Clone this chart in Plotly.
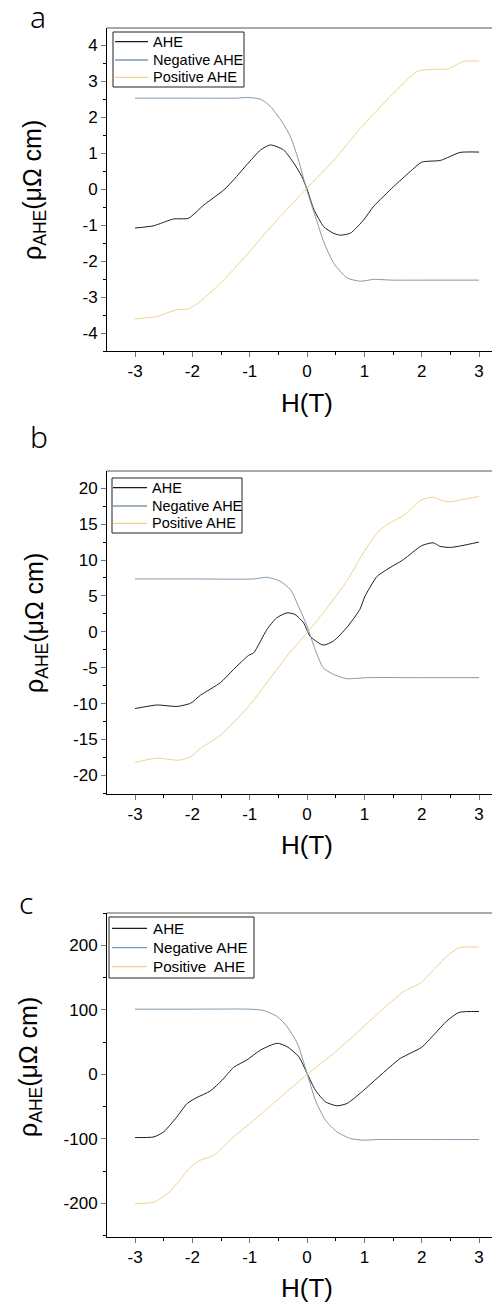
import plotly.graph_objects as go

# ---------------- data ----------------
# panel a
a_ahe_H = [-3, -2.68, -2.33, -2.07, -1.80, -1.45, -1.28, -1.05, -0.81, -0.64, -0.41, -0.23, -0.09, 0.0,
           0.12, 0.29, 0.45, 0.58, 0.76, 0.99, 1.16, 1.51, 1.80, 2.0, 2.33, 2.67, 3.0]
a_ahe = [-1.08, -1.02, -0.83, -0.81, -0.44, -0.02, 0.26, 0.68, 1.09, 1.23, 1.09, 0.72, 0.35, 0.0,
         -0.57, -1.04, -1.22, -1.28, -1.22, -0.85, -0.48, 0.07, 0.49, 0.75, 0.80, 1.02, 1.03]
a_neg_H = [-3, -2, -1.22, -1.05, -0.81, -0.64, -0.44, -0.29, -0.15, 0.0, 0.145, 0.29, 0.465, 0.70,
           0.93, 1.16, 1.5, 2, 3]
a_neg = [2.53, 2.53, 2.53, 2.55, 2.50, 2.30, 1.88, 1.46, 0.81, -0.05, -0.76, -1.46, -2.06, -2.47,
         -2.56, -2.51, -2.53, -2.53, -2.53]
a_pos_H = [-3, -2.62, -2.27, -2.07, -1.86, -1.45, -1.05, -0.52, 0.0, 0.47, 0.93, 1.45, 1.92, 2.21,
           2.45, 2.73, 3]
a_pos = [-3.61, -3.54, -3.35, -3.33, -3.12, -2.52, -1.82, -0.85, 0.03, 0.81, 1.69, 2.57, 3.27, 3.33,
         3.34, 3.55, 3.56]

# panel b
b_ahe_H = [-3, -2.62, -2.27, -2.03, -1.86, -1.51, -1.28, -1.02, -0.93, -0.70, -0.53, -0.35, -0.21,
           -0.06, 0.05, 0.28, 0.46, 0.69, 0.92, 1.01, 1.22, 1.39, 1.68, 2.0, 2.2, 2.32, 2.5, 2.7, 3.0]
b_ahe = [-10.7, -10.2, -10.4, -9.95, -8.84, -7.08, -5.23, -3.29, -2.92, 0.32, 1.94, 2.64, 2.41,
         1.25, -0.6, -1.85, -1.30, 0.56, 3.1, 4.95, 7.7, 8.66, 10.05, 12.0, 12.4, 11.9, 11.75, 12.0, 12.5]
b_neg_H = [-3, -2, -0.93, -0.70, -0.47, -0.29, -0.15, 0.0, 0.14, 0.28, 0.46, 0.69, 1.05, 2, 3]
b_neg = [7.36, 7.36, 7.36, 7.59, 7.04, 5.88, 3.56, 0.79, -2.45, -5.0, -5.93, -6.53, -6.39, -6.39, -6.39]
b_pos_H = [-3, -2.62, -2.24, -2.03, -1.86, -1.51, -1.28, -1.02, -0.70, -0.35, 0.0, 0.35, 0.69, 0.98,
           1.22, 1.39, 1.68, 2.0, 2.2, 2.32, 2.47, 2.7, 3.0]
b_pos = [-18.2, -17.6, -17.9, -17.4, -16.25, -14.4, -12.6, -10.4, -7.08, -3.38, -0.14, 3.33, 7.04,
         10.97, 13.75, 14.9, 16.2, 18.4, 18.75, 18.4, 18.1, 18.4, 18.85]

# panel c
c_ahe_H = [-3, -2.67, -2.5, -2.27, -2.09, -1.92, -1.69, -1.48, -1.28, -1.05, -0.81, -0.52, -0.35,
           -0.145, 0.0, 0.145, 0.32, 0.52, 0.70, 0.99, 1.22, 1.45, 1.63, 1.80, 2.0, 2.21, 2.44, 2.65, 3.0]
c_ahe = [-97.9, -96.9, -89, -65.8, -45, -35.8, -25.9, -8.8, 10.9, 22.3, 37.8, 48.2, 43, 27.5, 1.6,
         -24.4, -42.5, -48.7, -45, -24.4, -6.2, 11.9, 24.9, 32.6, 42, 61.1, 82.9, 95.9, 97.4]
c_neg_H = [-3, -2, -1.0, -0.76, -0.52, -0.35, -0.17, 0.0, 0.145, 0.32, 0.52, 0.76, 0.99, 1.22, 2, 3]
c_neg = [101, 101, 101, 99, 89.6, 74, 48.2, 1.6, -39.9, -71, -89, -99.5, -102, -101, -101, -101]
c_pos_H = [-3, -2.67, -2.44, -2.27, -2.03, -1.86, -1.63, -1.28, -0.93, -0.52, 0.0, 0.465, 0.99, 1.34,
           1.69, 1.98, 2.21, 2.44, 2.65, 3.0]
c_pos = [-200, -198, -185, -169.4, -143.5, -133, -125.4, -96.9, -71, -39.9, 0, 32.6, 74, 102.6,
         128.5, 141.5, 162.2, 182.9, 195.9, 197.4]

series_names = ["AHE", "Negative AHE", "Positive AHE"]
series_names_c = ["AHE", "Negative AHE", "Positive\u00a0 AHE"]
panel_labels = ["a", "b", "c"]
x_ticks = [-3, -2, -1, 0, 1, 2, 3]
y_ticks_a = [-4, -3, -2, -1, 0, 1, 2, 3, 4]
y_ticks_b = [-20, -15, -10, -5, 0, 5, 10, 15, 20]
y_ticks_c = [-200, -100, 0, 100, 200]


def lbl(v):
    return str(v)  # plain hyphen minus, as in the reference


# ---------------- styling / geometry ----------------
OFF = 8                      # page body margin
W, Hh = 500 - OFF, 1308 - OFF
COLORS = ["#1e1e1e", "#8099ae", "#ecd58a"]
FONT = "Liberation Sans, Arial, sans-serif"


def fx(xw):
    return (xw - OFF) / W


def fy(yw):
    return 1 - (yw - OFF) / Hh


panels = [
    dict(data=[(a_ahe_H, a_ahe), (a_neg_H, a_neg), (a_pos_H, a_pos)], names=series_names,
         top=28, bottom=351, yrange=[-4.5, 4.48], yt=y_ticks_a, minor=0.5,
         leg=dict(box=(113, 244, 32, 87), rows=(41.7, 60, 77.3), line=(115, 148), tx=151, fs=14.5)),
    dict(data=[(b_ahe_H, b_ahe), (b_neg_H, b_neg), (b_pos_H, b_pos)], names=series_names,
         top=471, bottom=794, yrange=[-22.6, 22.4], yt=y_ticks_b, minor=2.5,
         leg=dict(box=(112, 242, 478, 533), rows=(487.7, 506, 523.3), line=(113, 147), tx=150, fs=14.5)),
    dict(data=[(c_ahe_H, c_ahe), (c_neg_H, c_neg), (c_pos_H, c_pos)], names=series_names_c,
         top=913, bottom=1237, yrange=[-252, 250], yt=y_ticks_c, minor=50,
         leg=dict(box=(109, 254, 917, 978), rows=(928.3, 947.7, 966.7), line=(112, 147), tx=151, fs=15.2)),
]
xtitle_y = [403, 845, 1288]
ytitle_pos = [(34, 190), (36, 623), (30, 1067)]
plabel_pos = [(38, 16), (39, 436), (26, 902)]

X0 = 107   # window x of left axis
fig = go.Figure()
layout = dict(width=W, height=Hh, margin=dict(l=0, r=0, t=0, b=0), autosize=False,
              paper_bgcolor="white", plot_bgcolor="white", showlegend=False,
              font=dict(family=FONT, color="black"))
annotations = []
shapes = []

for i, p in enumerate(panels):
    sfx = "" if i == 0 else str(i + 1)
    for j, (hx, vy) in enumerate(p["data"]):
        fig.add_trace(go.Scatter(x=hx, y=vy, mode="lines", name=p["names"][j],
                                 line=dict(color=COLORS[j], width=1, shape="spline", smoothing=0.6),
                                 xaxis="x" + sfx, yaxis="y" + sfx))
    ydom = [fy(p["bottom"]), fy(p["top"])]
    layout["xaxis" + sfx] = dict(domain=[fx(X0), 1.0], anchor="y" + sfx, range=[-3.49, 3.366],
                                 tickvals=x_ticks, ticktext=[lbl(v) for v in x_ticks],
                                 ticks="outside", ticklen=5, tickcolor="#777",
                                 showline=True, linecolor="black", linewidth=1, showgrid=False,
                                 zeroline=False, tickfont=dict(size=17, family=FONT),
                                 minor=dict(dtick=0.5, tick0=0, ticks="outside", ticklen=3,
                                            tickcolor="black", showgrid=False))
    layout["yaxis" + sfx] = dict(domain=ydom, anchor="x" + sfx, range=p["yrange"],
                                 tickvals=p["yt"], ticktext=[lbl(v) for v in p["yt"]],
                                 ticks="outside", ticklen=5, tickcolor="#777",
                                 showline=True, linecolor="black", linewidth=1, showgrid=False,
                                 zeroline=False, tickfont=dict(size=17, family=FONT),
                                 minor=dict(dtick=p["minor"], tick0=0, ticks="outside", ticklen=3,
                                            tickcolor="black", showgrid=False))
    # top frame line
    shapes.append(dict(type="line", xref="x" + sfx + " domain", yref="y" + sfx + " domain",
                       x0=0, x1=1, y0=1, y1=1, line=dict(color="#555", width=1)))
    # legend drawn by hand
    lg = p["leg"]
    bx0, bx1, by0, by1 = lg["box"]
    shapes.append(dict(type="rect", xref="paper", yref="paper", x0=fx(bx0), x1=fx(bx1),
                       y0=fy(by1), y1=fy(by0), line=dict(color="#222", width=1),
                       fillcolor="white", layer="above"))
    for j in range(3):
        ry = lg["rows"][j]
        shapes.append(dict(type="line", xref="paper", yref="paper", x0=fx(lg["line"][0]),
                           x1=fx(lg["line"][1]), y0=fy(ry), y1=fy(ry),
                           line=dict(color=COLORS[j], width=1.3), layer="above"))
        annotations.append(dict(text=p["names"][j], x=fx(lg["tx"]), y=fy(ry), xref="paper",
                                yref="paper", showarrow=False, xanchor="left", yanchor="middle",
                                font=dict(size=lg["fs"], family=FONT, color="black")))
    annotations.append(dict(text="H(T)", x=fx(307), y=fy(xtitle_y[i]), xref="paper", yref="paper",
                            showarrow=False, xanchor="center", yanchor="middle",
                            font=dict(size=26, family=FONT)))
    tx, ty = ytitle_pos[i]
    annotations.append(dict(text="ρ<sub>AHE</sub>(μΩ cm)", x=fx(tx), y=fy(ty),
                            xref="paper", yref="paper", showarrow=False, textangle=-90,
                            xanchor="center", yanchor="middle", font=dict(size=25, family=FONT)))
    px, py = plabel_pos[i]
    annotations.append(dict(text=panel_labels[i], x=fx(px), y=fy(py), xref="paper", yref="paper",
                            showarrow=False, xanchor="center", yanchor="middle",
                            font=dict(size=30, family="Noto Sans, sans-serif", weight=300)))

layout["annotations"] = annotations
layout["shapes"] = shapes
fig.update_layout(**layout)
fig.write_html("out.html")
